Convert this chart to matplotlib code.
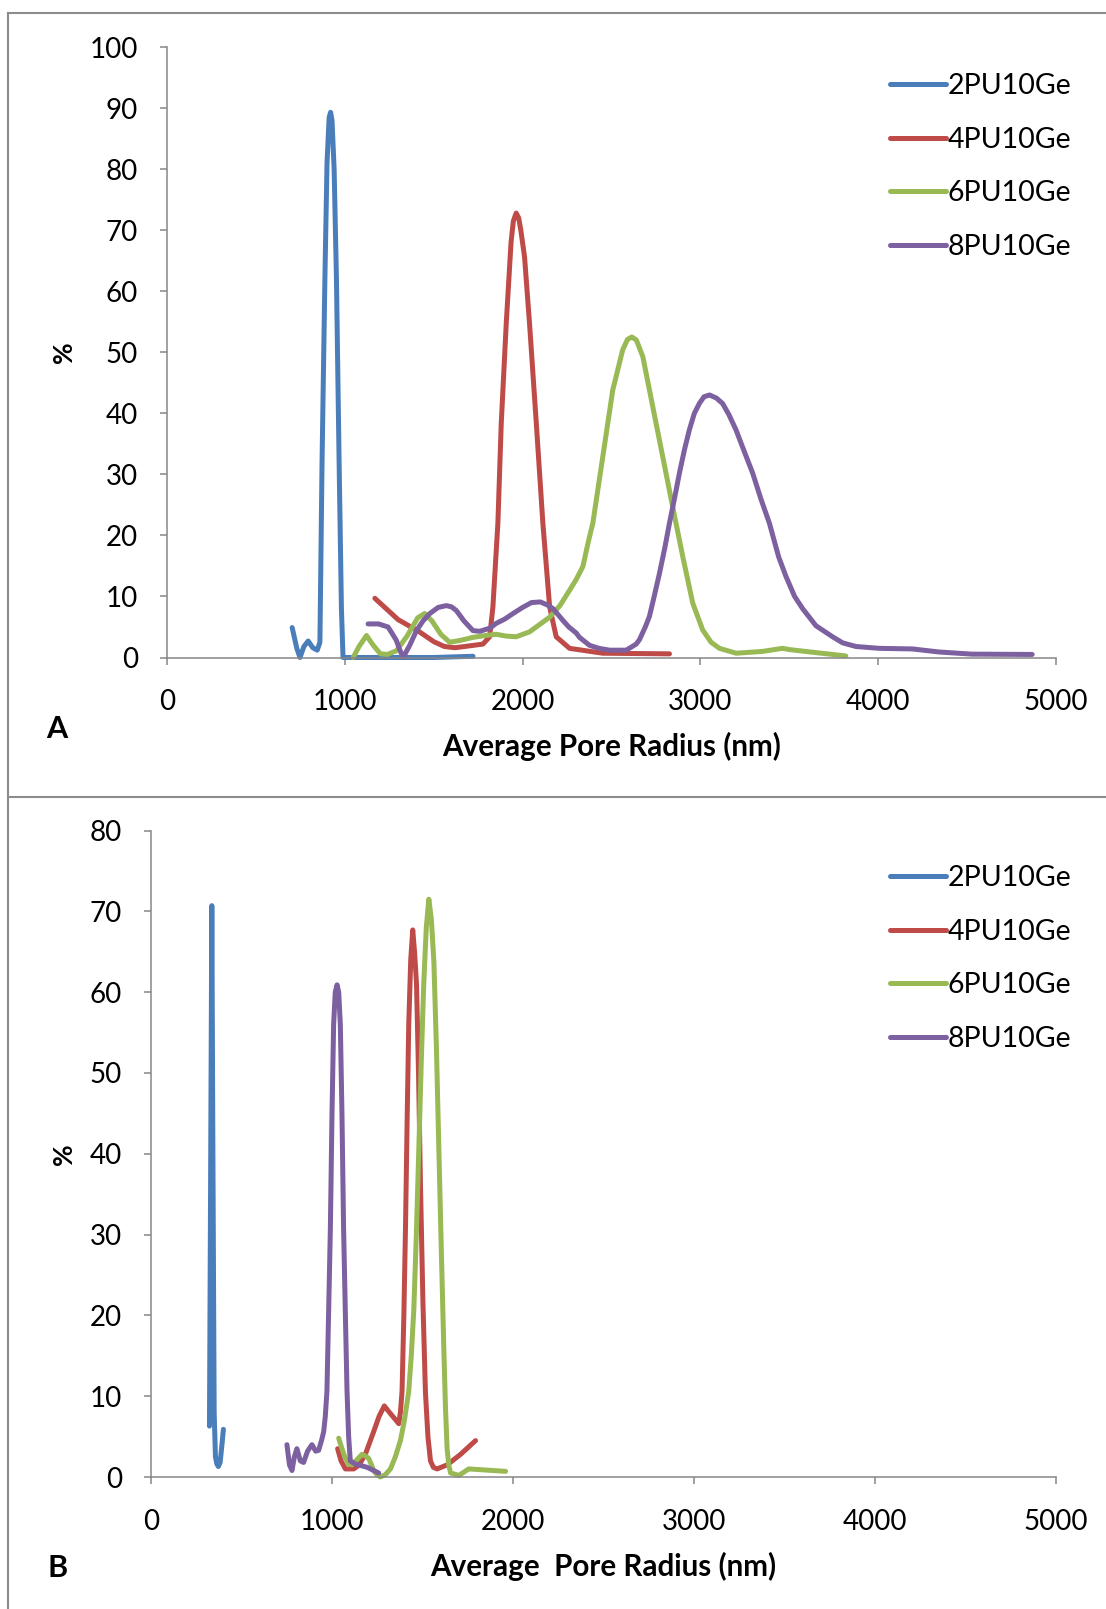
import matplotlib
matplotlib.use("Agg")
import matplotlib.pyplot as plt
from matplotlib.lines import Line2D

plt.rcParams['font.family'] = ['Lato', 'DejaVu Sans']

labels = ["2PU10Ge", "4PU10Ge", "6PU10Ge", "8PU10Ge"]
colors = ["#4A7EBB", "#BE4B48", "#98B954", "#7D60A0"]

# ---- panel A ----
a_2pu_x = [704, 730, 748, 770, 794, 820, 845, 860, 872, 888, 900, 912, 920, 928,
           940, 953, 968, 981, 990, 1100, 1300, 1500, 1721]
a_2pu_y = [4.9, 1.5, 0, 1.8, 2.7, 1.6, 1.2, 2.5, 32, 62, 81, 88.5, 89.3, 88,
           80, 62, 32, 8, 0, 0, 0, 0, 0.2]

a_4pu_x = [1169, 1300, 1420, 1500, 1560, 1620, 1700, 1777, 1815, 1833, 1861, 1880,
           1908, 1935, 1948, 1964, 1978, 1990, 2011, 2039, 2077, 2114, 2152, 2189,
           2264, 2451, 2826]
a_4pu_y = [9.7, 6.2, 4.2, 2.6, 1.8, 1.6, 1.9, 2.2, 3.4, 8.3, 22, 38.4,
           54.7, 68, 71.5, 72.8, 72, 70, 65.6, 54.7, 38.4, 22, 8.3, 3.4,
           1.5, 0.7, 0.6]

a_6pu_x = [1047, 1080, 1122, 1160, 1200, 1240, 1290, 1350, 1410, 1449, 1490, 1540,
           1590, 1650, 1721, 1790, 1852, 1910, 1964, 2039, 2100, 2152, 2210, 2264,
           2302, 2339, 2370, 2395, 2451, 2507, 2563, 2590, 2614, 2640, 2676, 2732,
           2788, 2844, 2901, 2957, 3013, 3060, 3107, 3201, 3350, 3462, 3500, 3650,
           3818]
a_6pu_y = [0, 1.8, 3.6, 2, 0.6, 0.5, 1.1, 3.5, 6.5, 7.2, 6, 3.8,
           2.5, 2.8, 3.3, 3.6, 3.8, 3.5, 3.4, 4.2, 5.5, 6.6, 8.5, 11,
           12.8, 14.9, 19, 22, 32.9, 43.8, 50.4, 52.1, 52.5, 52, 49.3, 41.1,
           32.9, 24.7, 16.5, 8.9, 4.5, 2.5, 1.5, 0.7, 1.0, 1.5, 1.3, 0.8,
           0.25]

a_8pu_x = [1131, 1190, 1243, 1265, 1290, 1310, 1328, 1365, 1403, 1440, 1478, 1525,
           1571, 1600, 1627, 1670, 1721, 1760, 1815, 1852, 1900, 1946, 2000, 2050,
           2100, 2140, 2171, 2226, 2260, 2302, 2320, 2376, 2430, 2489, 2583, 2639,
           2657, 2690, 2713, 2740, 2770, 2800, 2826, 2854, 2882, 2910, 2938, 2966,
           2994, 3020, 3051, 3090, 3125, 3160, 3200, 3250, 3294, 3340, 3388, 3440,
           3481, 3530, 3575, 3650, 3743, 3800, 3875, 4006, 4193, 4343, 4528, 4866]
a_8pu_y = [5.5, 5.5, 5.0, 4, 2.8, 1.2, 0, 2, 4.4, 6, 7.2, 8.2,
           8.5, 8.3, 7.7, 6, 4.4, 4.3, 4.8, 5.6, 6.3, 7.2, 8.2, 9,
           9.1, 8.6, 8, 6.1, 5, 4.0, 3.3, 2.0, 1.5, 1.2, 1.2, 2.2,
           2.9, 5, 6.7, 10, 13.8, 18, 22, 26, 30.2, 34, 37.3, 40,
           41.6, 42.7, 43, 42.5, 41.6, 39.8, 37.3, 33.5, 30.2, 26, 22, 16.5,
           13.3, 10, 8, 5.2, 3.4, 2.4, 1.8, 1.5, 1.4, 0.9, 0.55, 0.5]

# ---- panel B ----
b_2pu_x = [323, 330, 336, 342, 349, 356, 364, 372, 382, 392, 400]
b_2pu_y = [6.3, 40, 70.7, 40, 8, 2.5, 1.6, 1.3, 1.8, 4, 5.9]

b_4pu_x = [1031, 1050, 1074, 1120, 1150, 1184, 1230, 1260, 1289, 1310, 1332, 1369,
           1378, 1387, 1397, 1406, 1415, 1424, 1435, 1446, 1456, 1467, 1478, 1489,
           1502, 1516, 1530, 1544, 1560, 1581, 1636, 1710, 1793]
b_4pu_y = [3.5, 2, 1.0, 1.0, 1.5, 2.8, 5.6, 7.5, 8.8, 8.2, 7.6, 6.6,
           8, 10.6, 20, 30.8, 44, 56, 64, 67.7, 65, 61, 50, 35.9,
           22, 10.6, 5, 2, 1.2, 1.0, 1.5, 2.8, 4.5]

b_6pu_x = [1037, 1055, 1074, 1092, 1111, 1140, 1166, 1185, 1203, 1218, 1230, 1248,
           1267, 1295, 1323, 1350, 1378, 1400, 1424, 1438, 1452, 1466, 1480, 1494,
           1507, 1521, 1535, 1549, 1563, 1577, 1590, 1604, 1618, 1627, 1636, 1645,
           1655, 1701, 1756, 1959]
b_6pu_y = [4.8, 3.5, 2.3, 1.6, 1.5, 2.2, 2.8, 2.6, 2.3, 1.5, 0.8, 0.3,
           0, 0.3, 1.0, 2.5, 4.5, 7, 10.6, 15, 20.7, 30, 40.9, 52,
           61.1, 68, 71.5, 69, 63.7, 53, 40.9, 28, 15.7, 8.5, 3.5, 1.5,
           0.5, 0.2, 1.0, 0.7]

b_8pu_x = [751, 765, 779, 792, 806, 825, 843, 865, 889, 910, 926, 942,
           954, 963, 972, 981, 991, 1000, 1009, 1018, 1028, 1037, 1046, 1055,
           1064, 1074, 1083, 1092, 1101, 1129, 1194, 1258]
b_8pu_y = [4.0, 1.5, 0.8, 2.5, 3.5, 2, 1.8, 3.2, 4.0, 3.2, 3.3, 4.5,
           5.6, 7.5, 10.6, 20, 30.8, 45, 56, 60, 60.9, 60, 56, 45,
           30.8, 20, 10.6, 5, 2, 1.6, 1.2, 0.5]

W, H = 1106, 1609
fig = plt.figure(figsize=(W / 100, H / 100), dpi=100)
grey = "#868686"
LW = 3.6


def px_axes(left, right, top, bottom):
    return fig.add_axes([left / W, 1 - bottom / H, (right - left) / W, (bottom - top) / H])


def style_axes(ax, ymax, xlabel, ylab_x, xlab_y, leg_top):
    ax.set_xlim(0, 5000)
    ax.set_ylim(0, ymax)
    ax.set_xticks(range(0, 5001, 1000))
    ax.set_yticks(range(0, ymax + 1, 10))
    for s in ["top", "right"]:
        ax.spines[s].set_visible(False)
    for s in ["left", "bottom"]:
        ax.spines[s].set_color(grey)
        ax.spines[s].set_linewidth(1.1)
    ax.tick_params(axis="both", direction="out", length=5, width=1.1, color=grey,
                   labelsize=20, labelcolor="black")
    ax.tick_params(axis="y", pad=16)
    ax.tick_params(axis="x", pad=18)
    ax.set_xlabel(xlabel, fontsize=21.3, fontweight="bold")
    ax.set_ylabel("%", fontsize=19, fontweight="bold")
    ax.yaxis.set_label_coords(ylab_x, 0.5)
    ax.xaxis.set_label_coords(0.5, xlab_y)
    ax.xaxis.label.set_va("center")
    ax.yaxis.label.set_va("center")
    leg = ax.legend(loc="upper left", bbox_to_anchor=(890 / W, 1 - leg_top / H),
                    bbox_transform=fig.transFigure, frameon=False, fontsize=20.5,
                    borderpad=0, handlelength=1.95, handletextpad=0.08,
                    labelspacing=0.97, borderaxespad=0)
    for h in leg.get_lines():
        h.set_linewidth(LW)


# panel A
axA = px_axes(167, 1056, 47, 657.5)
for xs, ys, c, lab in zip([a_2pu_x, a_4pu_x, a_6pu_x, a_8pu_x],
                          [a_2pu_y, a_4pu_y, a_6pu_y, a_8pu_y], colors, labels):
    axA.plot(xs, ys, color=c, lw=LW, label=lab, solid_capstyle="round",
             solid_joinstyle="round", clip_on=False)
style_axes(axA, 100, "Average Pore Radius (nm)", -0.116, -0.145, 73)

# panel B
axB = px_axes(151, 1056, 830.5, 1477)
for xs, ys, c, lab in zip([b_2pu_x, b_4pu_x, b_6pu_x, b_8pu_x],
                          [b_2pu_y, b_4pu_y, b_6pu_y, b_8pu_y], colors, labels):
    axB.plot(xs, ys, color=c, lw=LW, label=lab, solid_capstyle="round",
             solid_joinstyle="round", clip_on=False)
style_axes(axB, 80, "Average  Pore Radius (nm)", -0.096, -0.1377, 865)

fig.text(57 / W, 1 - 729 / H, "A", fontsize=22, fontweight="bold", ha="center", va="center")
fig.text(58 / W, 1 - 1568 / H, "B", fontsize=22, fontweight="bold", ha="center", va="center")

# frame lines around the panels
border = dict(color="#8c8c8c", lw=1.5, transform=fig.transFigure)
fig.add_artist(Line2D([8 / W, 8 / W], [0, 1 - 12.5 / H], **border))
fig.add_artist(Line2D([8 / W, 1], [1 - 12.5 / H, 1 - 12.5 / H], **border))
fig.add_artist(Line2D([8 / W, 1], [1 - 797 / H, 1 - 797 / H], **border))

fig.savefig("out.png", dpi=100, facecolor="white")
